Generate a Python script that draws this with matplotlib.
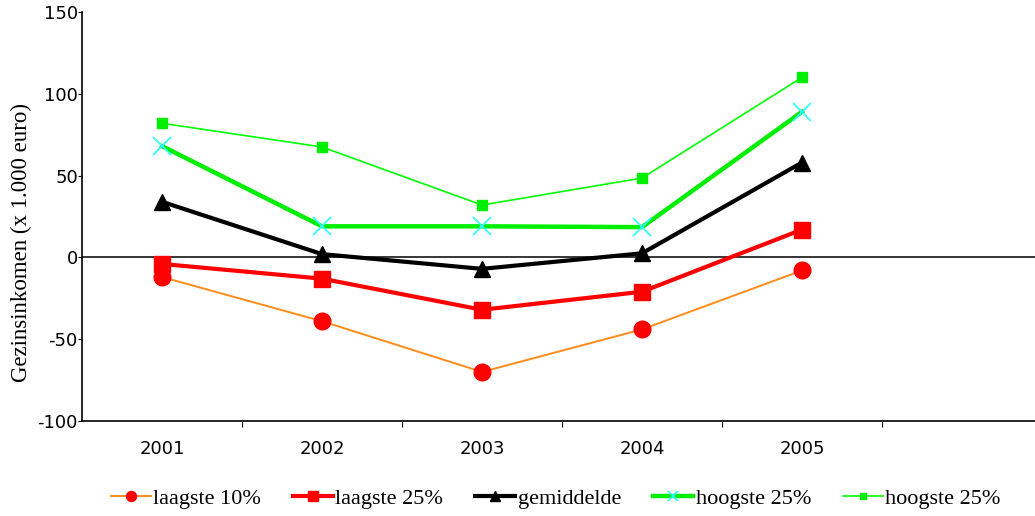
import numpy as np
import matplotlib
matplotlib.use("Agg")
import matplotlib.pyplot as plt

jaren = ["2001", "2002", "2003", "2004", "2005"]
laagste_10 = [-12, -39, -70, -44, -8]
laagste_25 = [-4, -13, -32, -21, 17]
gemiddelde = [34, 2, -7, 2.5, 58]
hoogste_25_lijn = [68, 19, 19, 18.5, 89]
hoogste_25_punt = [82, 67.5, 32, 48.5, 110]

series = [
    ("laagste 10%", laagste_10, dict(color="#FF8C1A", lw=1.4, marker="o", ms=12,
                                     mfc="#FF0000", mec="#FF0000")),
    ("laagste 25%", laagste_25, dict(color="#FF0000", lw=3, marker="s", ms=11,
                                     mfc="#FF0000", mec="#FF0000")),
    ("gemiddelde", gemiddelde, dict(color="black", lw=3, marker="^", ms=12,
                                    mfc="black", mec="black")),
    ("hoogste 25%", hoogste_25_lijn, dict(color="#00EE00", lw=3.2, marker="x", ms=13,
                                          mew=1.3, mec="#33FFFF")),
    ("hoogste 25%", hoogste_25_punt, dict(color="#00FF00", lw=1.2, marker="s", ms=7,
                                          mfc="#00EE00", mec="#00EE00")),
]

fig = plt.figure(figsize=(10.35, 5.16), dpi=100)
ax = fig.add_axes([82 / 1035, 95 / 516, 1 - 82 / 1035, 409 / 516])

x = np.arange(len(jaren)) + 0.5
for naam, waarden, stijl in series:
    ax.plot(x, waarden, label=naam, **stijl)

ax.axhline(0, color="black", lw=1.1, zorder=1)

ax.set_xlim(0, (1035 - 82) / 160)
ax.set_ylim(-100, 150)
ax.set_yticks([-100, -50, 0, 50, 100, 150])
ax.set_yticklabels(["-100", "-50", "0", "50", "100", "150"],
                   family="DejaVu Sans", fontsize=13)
ax.tick_params(axis="y", length=3, pad=0)

# category labels sit between the tick marks
ax.set_xticks(np.arange(1, 6))
ax.set_xticklabels([])
ax.set_xticks(x, minor=True)
ax.set_xticklabels(jaren, minor=True, family="DejaVu Sans", fontsize=13)
ax.tick_params(axis="x", which="major", length=4, direction="out")
ax.tick_params(axis="x", which="minor", length=0, pad=14)

for kant in ["top", "right"]:
    ax.spines[kant].set_visible(False)
ax.spines["left"].set_linewidth(1.2)
ax.spines["bottom"].set_linewidth(1.2)

ax.set_ylabel("Gezinsinkomen (x 1.000 euro)", family="Liberation Serif", fontsize=16.5)
ax.yaxis.set_label_coords(-0.0525, 0.437)

fig.legend(loc="lower center", bbox_to_anchor=(0.537, -0.025), ncol=5, frameon=False,
           prop={"family": "Liberation Serif", "size": 16}, handlelength=1.8,
           handletextpad=0.1, columnspacing=1.45, markerscale=0.6)

fig.savefig("out.png", dpi=100)
